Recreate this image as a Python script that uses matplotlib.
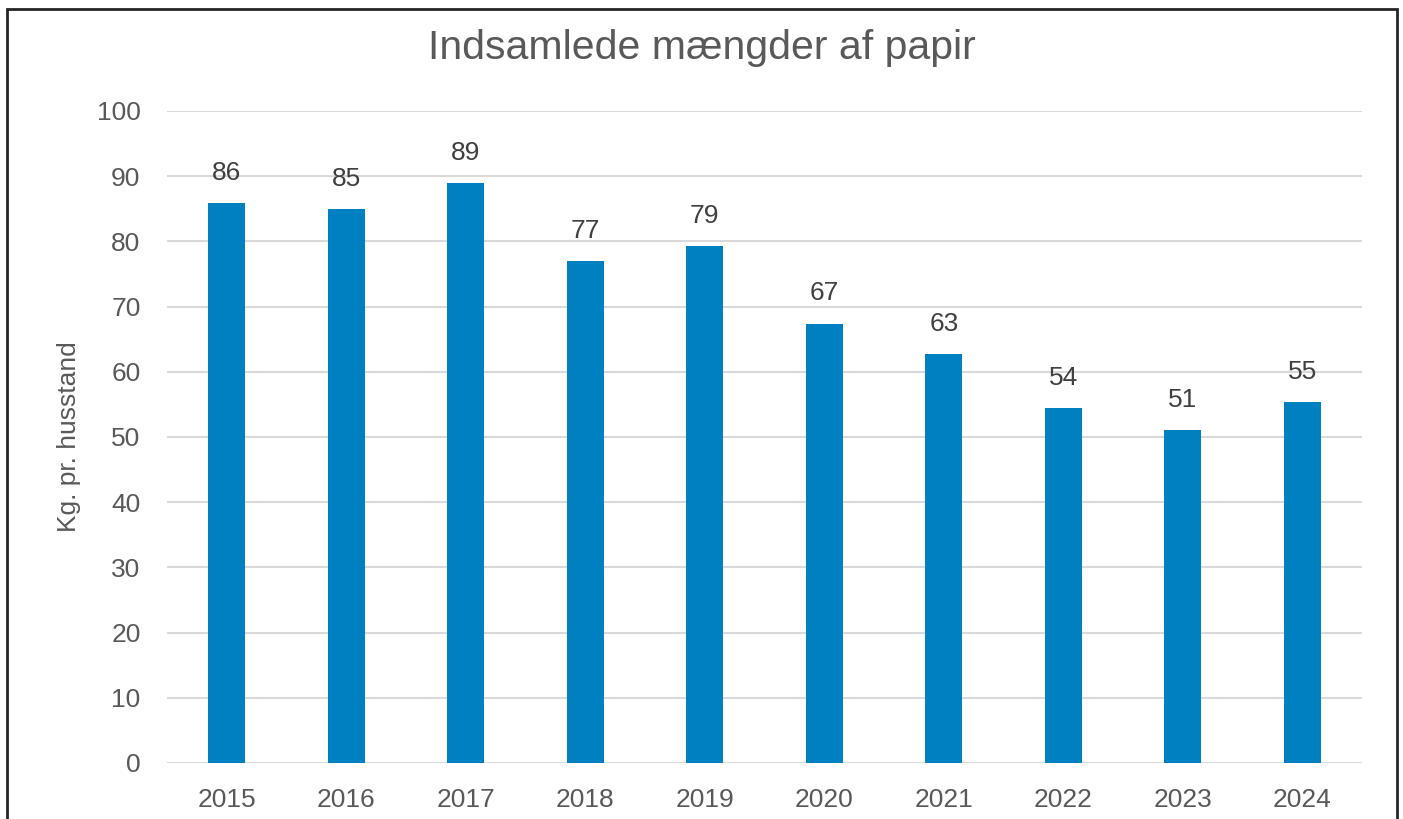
import matplotlib.pyplot as plt
from matplotlib.patches import Rectangle

years = ["2015", "2016", "2017", "2018", "2019", "2020", "2021", "2022", "2023", "2024"]
kg = [85.9, 85.0, 89.0, 77.0, 79.3, 67.4, 62.7, 54.4, 51.1, 55.4]

plt.rcParams['font.family'] = ['Liberation Sans', 'DejaVu Sans']
grey = "#595959"

fig = plt.figure(figsize=(14.03, 8.19), dpi=100)
ax = fig.add_axes([0.119, 0.0684, 0.8518, 0.7961])

x = range(len(years))
bars = ax.bar(x, kg, width=0.31, color="#0080C0", zorder=3)
for i, v in enumerate(kg):
    ax.annotate(f"{v:.0f}", (i, v), xytext=(0, 13), textcoords="offset points",
                ha="center", va="bottom", fontsize=19, color="#404040")

ax.set_xlim(-0.5, len(years) - 0.5)
ax.set_ylim(0, 100)
ax.set_yticks(range(0, 101, 10))
ax.set_xticks(list(x))
ax.set_xticklabels(years)
ax.grid(axis="y", color="#D9D9D9", linewidth=1.5, zorder=0)
ax.tick_params(axis="both", length=0, labelsize=19, labelcolor=grey)
ax.tick_params(axis="y", pad=19)
ax.tick_params(axis="x", pad=18)
for s in ax.spines.values():
    s.set_visible(False)

ax.set_ylabel("Kg. pr. husstand", fontsize=19, color=grey, labelpad=11)
fig.text(0.5, 0.942, "Indsamlede mængder af papir", ha="center", va="center",
         fontsize=29.5, color=grey)

fig.patches.append(Rectangle((7 / 1403, -0.05), 1390 / 1403, 1 - 9 / 819 + 0.05,
                             transform=fig.transFigure, fill=False,
                             edgecolor="#262626", linewidth=2))

fig.savefig("out.png", dpi=100)
